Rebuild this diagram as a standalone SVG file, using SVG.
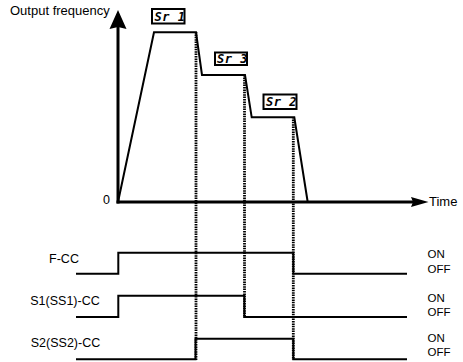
<svg xmlns="http://www.w3.org/2000/svg" width="463" height="362" viewBox="0 0 463 362">
<style>
text{font-family:"Liberation Sans",Arial,sans-serif;fill:#000}
.lbl{font-size:12.5px}
.oo{font-size:11.5px}
.axis{stroke:#000;stroke-width:3;fill:none}
.line{stroke:#000;stroke-width:2;fill:none;stroke-linejoin:miter}
.dot{stroke:#000;stroke-width:2.8;fill:none;stroke-dasharray:1.5 0.9}
.disp rect{fill:#fff;stroke:#000;stroke-width:2}
.disp text{font-family:"DejaVu Sans Mono",monospace;font-style:italic;font-weight:bold;font-size:12px;letter-spacing:0.5px}
</style>
<rect width="463" height="362" fill="#fff"/>
<g id="axes">
  <line class="axis" x1="118" y1="203.5" x2="118" y2="26"/>
  <polygon points="118,10 126.5,29 118,27 109.5,29" fill="#000"/>
  <line class="axis" x1="116.5" y1="202" x2="414" y2="202"/>
  <polygon points="428.5,202 411,197 413,202 411,207" fill="#000"/>
  <text x="10" y="15" font-size="13">Output frequency</text>
  <text x="103" y="204" class="lbl">0</text>
  <text x="429" y="206" font-size="13">Time</text>
</g>
<g id="markers">
  <line class="dot" x1="196" y1="32" x2="196" y2="360"/>
  <line class="dot" x1="244.5" y1="75" x2="244.5" y2="318"/>
  <line class="dot" x1="293.3" y1="117" x2="293.3" y2="360"/>
</g>
<g id="profile">
  <polyline class="line" points="118,202 154,32.3 196,32.3 202,75 245,75 251.7,117.3 294.3,117.3 307.7,202"/>
</g>
<g id="sr1" class="disp">
  <rect x="152" y="9" width="32.5" height="14.5"/>
  <text x="154.5" y="20.5">Sr 1</text>
</g>
<g id="sr3" class="disp">
  <rect x="215" y="52.5" width="32" height="12.5"/>
  <text x="217" y="63">Sr 3</text>
</g>
<g id="sr2" class="disp">
  <rect x="263.5" y="94.5" width="33" height="14.5"/>
  <text x="266" y="106">Sr 2</text>
</g>
<g id="signals">
  <polyline class="line" points="76,273.7 118.3,273.7 118.3,252.7 293.3,252.7 293.3,273.7 407,273.7"/>
  <polyline class="line" points="76,317 118.3,317 118.3,295.7 244.3,295.7 244.3,317 407,317"/>
  <polyline class="line" points="76,359.3 195.5,359.3 195.5,338.7 293.3,338.7 293.3,359.3 407,359.3"/>
</g>
<g id="labels">
  <text x="64" y="263" text-anchor="middle" class="lbl">F-CC</text>
  <text x="65" y="305" text-anchor="middle" class="lbl">S1(SS1)-CC</text>
  <text x="65.5" y="347" text-anchor="middle" class="lbl">S2(SS2)-CC</text>
  <text x="427.5" y="258.3" class="oo">ON</text>
  <text x="427.5" y="273" class="oo">OFF</text>
  <text x="427.5" y="301.5" class="oo">ON</text>
  <text x="427.5" y="315.5" class="oo">OFF</text>
  <text x="427.5" y="342" class="oo">ON</text>
  <text x="427.5" y="355.5" class="oo">OFF</text>
</g>
</svg>
